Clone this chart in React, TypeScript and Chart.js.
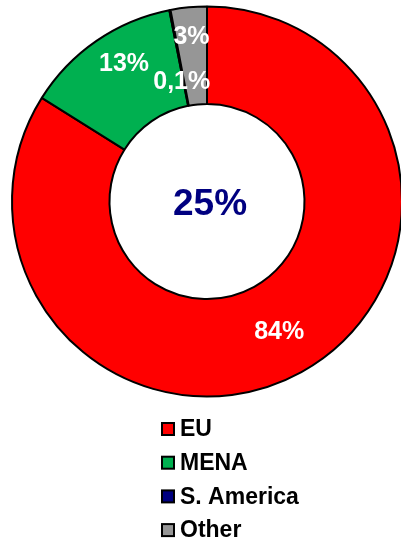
import React, { useEffect, useRef } from "react";
import { Chart, registerables } from "chart.js";

Chart.register(...registerables);

// ---- data ----
const categories = ["EU", "MENA", "S. America", "Other"];
const shares = [84, 13, 0.1, 3];
const sliceLabels = ["84%", "13%", "0,1%", "3%"];
const centerLabel = "25%";

// ---- styles ----
const colors = ["#FF0000", "#00B050", "#000080", "#969696"];
const labelRadialPos = [0.53, 0.65, 0.25, 0.69];
const labelAngleShiftDeg = [0, 3.5, -1, 0];
const FONT = "'Liberation Sans', Arial, sans-serif";

const sliceLabelPlugin = {
  id: "sliceLabels",
  afterDatasetsDraw(chart: any) {
    const ctx = chart.ctx;
    const meta = chart.getDatasetMeta(0);
    ctx.save();
    ctx.textAlign = "center";
    ctx.textBaseline = "middle";
    meta.data.forEach((arc: any, i: number) => {
      const p = arc.getProps(["x", "y", "startAngle", "endAngle", "innerRadius", "outerRadius"], true);
      const mid = (p.startAngle + p.endAngle) / 2 + (labelAngleShiftDeg[i] * Math.PI) / 180;
      const r = p.innerRadius + (p.outerRadius - p.innerRadius) * labelRadialPos[i];
      ctx.font = `bold 25px ${FONT}`;
      ctx.fillStyle = "#FFFFFF";
      ctx.fillText(sliceLabels[i], p.x + Math.cos(mid) * r, p.y + Math.sin(mid) * r);
    });
    const first = meta.data[0];
    if (first) {
      ctx.font = `bold 37px ${FONT}`;
      ctx.fillStyle = "#000080";
      ctx.fillText(centerLabel, first.x + 3, first.y + 3);
    }
    ctx.restore();
  },
};

const columnLegendPlugin = {
  id: "columnLegend",
  afterDraw(chart: any) {
    const ctx = chart.ctx;
    const x0 = 162;
    const yStart = 429;
    const step = 33.7;
    const box = 12;
    ctx.save();
    ctx.textAlign = "left";
    ctx.textBaseline = "middle";
    ctx.font = `bold 23px ${FONT}`;
    categories.forEach((c, i) => {
      const y = yStart + i * step;
      ctx.fillStyle = colors[i];
      ctx.fillRect(x0, y - box / 2, box, box);
      ctx.lineWidth = 2;
      ctx.strokeStyle = "#000000";
      ctx.strokeRect(x0, y - box / 2, box, box);
      ctx.fillStyle = "#000000";
      ctx.fillText(c, x0 + 18, y + 1);
    });
    ctx.restore();
  },
};

export default function App() {
  const ref = useRef<HTMLCanvasElement | null>(null);
  useEffect(() => {
    if (!ref.current) return;
    const chart = new Chart(ref.current, {
      type: "doughnut",
      data: {
        labels: categories,
        datasets: [
          {
            data: shares,
            backgroundColor: colors,
            borderColor: "#000000",
            borderWidth: 2,
          },
        ],
      },
      options: {
        animation: false,
        responsive: false,
        cutout: "50%",
        layout: { padding: { top: 5, bottom: 148, left: 11, right: 11 } },
        plugins: {
          legend: { display: false },
          tooltip: { enabled: false },
        },
      },
      plugins: [sliceLabelPlugin, columnLegendPlugin],
    });
    return () => chart.destroy();
  }, []);
  return (
    <div
      style={{
        position: "absolute",
        left: 0,
        top: 0,
        width: 401,
        height: 546,
        overflow: "hidden",
        background: "#FFFFFF",
      }}
    >
      <canvas ref={ref} width={414} height={546} style={{ display: "block" }} />
    </div>
  );
}
